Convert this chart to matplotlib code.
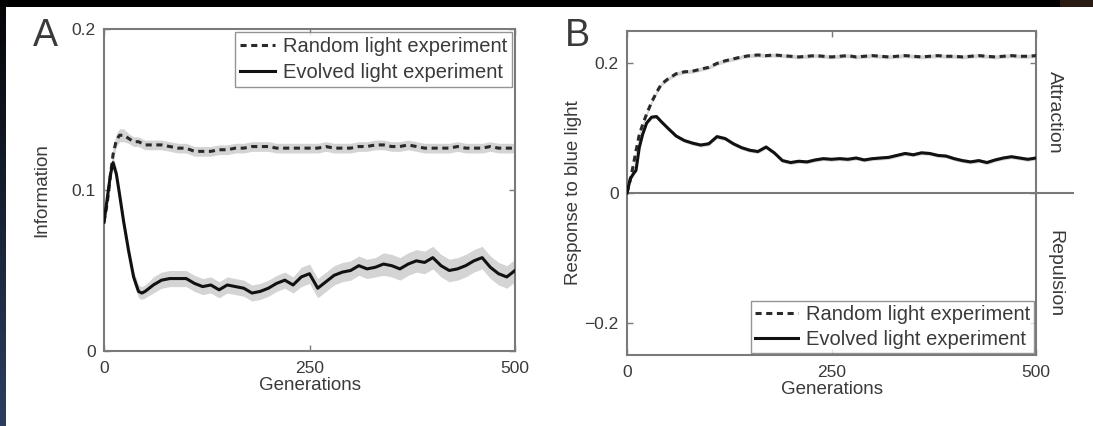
import matplotlib
matplotlib.use("Agg")
import matplotlib.pyplot as plt
import numpy as np
from matplotlib.patches import Rectangle

plt.rcParams['font.family'] = ['Liberation Sans', 'DejaVu Sans']

# Generations sampled (denser near the start, where curves change fast)
generations = [0, 4, 8, 11, 15, 19, 24, 30, 36, 42, 46, 50, 60, 70, 80, 90, 100,
               110, 120, 130, 140, 150, 160, 170, 180, 190, 200, 210, 220, 230, 240,
               250, 260, 270, 280, 290, 300, 310, 320, 330, 340, 350, 360, 370, 380,
               390, 400, 410, 420, 430, 440, 450, 460, 470, 480, 490, 500]

# Panel A: information
info_random = [0.080, 0.092, 0.110, 0.122, 0.131, 0.134, 0.134, 0.132, 0.130, 0.130, 0.129,
               0.128, 0.128, 0.128, 0.127, 0.126, 0.126, 0.124, 0.124, 0.124, 0.125, 0.125,
               0.126, 0.126, 0.127, 0.127, 0.127, 0.126, 0.126, 0.126, 0.126, 0.126, 0.126,
               0.127, 0.126, 0.126, 0.126, 0.127, 0.127, 0.128, 0.128, 0.127, 0.127, 0.128,
               0.127, 0.126, 0.126, 0.126, 0.126, 0.127, 0.126, 0.126, 0.126, 0.127, 0.126,
               0.126, 0.126]
info_random_err = [0.002, 0.003, 0.004, 0.004, 0.004, 0.004, 0.004, 0.003, 0.003, 0.003, 0.003,
                   0.003, 0.003, 0.003, 0.003, 0.003, 0.003, 0.003, 0.003, 0.003, 0.003, 0.003,
                   0.003, 0.003, 0.003, 0.003, 0.003, 0.003, 0.003, 0.003, 0.003, 0.003, 0.003,
                   0.003, 0.003, 0.003, 0.003, 0.003, 0.003, 0.003, 0.003, 0.003, 0.003, 0.003,
                   0.003, 0.003, 0.003, 0.003, 0.003, 0.003, 0.003, 0.003, 0.003, 0.003, 0.003,
                   0.003, 0.003]
info_evolved = [0.080, 0.095, 0.110, 0.117, 0.110, 0.097, 0.080, 0.062, 0.046, 0.037, 0.036,
                0.037, 0.041, 0.044, 0.045, 0.045, 0.045, 0.042, 0.040, 0.041, 0.038, 0.041,
                0.040, 0.039, 0.036, 0.037, 0.039, 0.042, 0.044, 0.041, 0.046, 0.048, 0.039,
                0.043, 0.047, 0.049, 0.050, 0.053, 0.051, 0.052, 0.054, 0.053, 0.051, 0.054,
                0.056, 0.055, 0.058, 0.053, 0.050, 0.051, 0.053, 0.056, 0.058, 0.052, 0.048,
                0.046, 0.050]
info_evolved_err = [0.003, 0.004, 0.004, 0.004, 0.004, 0.004, 0.004, 0.004, 0.004, 0.004, 0.004,
                    0.004, 0.005, 0.005, 0.005, 0.005, 0.005, 0.005, 0.005, 0.005, 0.005, 0.005,
                    0.005, 0.005, 0.005, 0.005, 0.005, 0.005, 0.005, 0.005, 0.006, 0.006, 0.006,
                    0.006, 0.006, 0.006, 0.006, 0.006, 0.006, 0.006, 0.007, 0.007, 0.007, 0.007,
                    0.007, 0.007, 0.007, 0.007, 0.007, 0.007, 0.007, 0.007, 0.007, 0.007, 0.007,
                    0.007, 0.007]

# Panel B: response to blue light
resp_random = [0.000, 0.020, 0.045, 0.065, 0.090, 0.105, 0.122, 0.140, 0.155, 0.168, 0.172,
               0.176, 0.184, 0.187, 0.188, 0.191, 0.194, 0.200, 0.204, 0.207, 0.210, 0.212,
               0.213, 0.212, 0.213, 0.212, 0.211, 0.210, 0.211, 0.212, 0.211, 0.210, 0.211,
               0.212, 0.210, 0.211, 0.212, 0.211, 0.210, 0.211, 0.212, 0.211, 0.210, 0.211,
               0.212, 0.211, 0.211, 0.210, 0.211, 0.212, 0.211, 0.210, 0.211, 0.212, 0.211,
               0.211, 0.212]
resp_random_err = [0.003] * len(generations)
resp_evolved = [0.000, 0.022, 0.030, 0.035, 0.070, 0.090, 0.108, 0.117, 0.118, 0.110, 0.105,
                0.100, 0.088, 0.081, 0.077, 0.074, 0.076, 0.087, 0.084, 0.076, 0.070, 0.066,
                0.064, 0.071, 0.062, 0.050, 0.047, 0.049, 0.048, 0.051, 0.053, 0.052, 0.053,
                0.052, 0.054, 0.051, 0.053, 0.054, 0.055, 0.058, 0.061, 0.059, 0.062, 0.061,
                0.058, 0.057, 0.053, 0.050, 0.048, 0.050, 0.047, 0.051, 0.054, 0.056, 0.054,
                0.052, 0.054]
resp_evolved_err = [0.003] * len(generations)

labels = ['Random light experiment', 'Evolved light experiment']

text_col = '#3a3a3a'
spine_col = '#7a7a7a'
band_col = '#d4d4d4'

fig = plt.figure(figsize=(10.93, 4.26), dpi=100)
fig.patch.set_facecolor('white')

# dark slide edges (top and left)
fig.patches.append(Rectangle((0, 1 - 7 / 426), 1, 7 / 426, transform=fig.transFigure,
                             facecolor='black', edgecolor='none', zorder=10))
fig.patches.append(Rectangle((1060 / 1093, 1 - 7 / 426), 33 / 1093, 7 / 426,
                             transform=fig.transFigure, facecolor='#2a1c12',
                             edgecolor='none', zorder=11))
edge = fig.add_axes([0, 0, 6 / 1093, 1 - 7 / 426])
edge.imshow(np.linspace(0, 1, 100).reshape(-1, 1), aspect='auto',
            cmap=matplotlib.colors.LinearSegmentedColormap.from_list('e', ['#050608', '#2c3e60']))
edge.axis('off')


def style_axes(ax):
    for s in ax.spines.values():
        s.set_color(spine_col)
        s.set_linewidth(1.5)
    ax.tick_params(direction='in', length=4, width=1, color=spine_col, labelcolor=text_col,
                   labelsize=12.5, top=True, right=True)
    ax.tick_params(axis='y', pad=6)
    ax.tick_params(axis='x', pad=7)
    ax.set_xlim(0, 500)
    ax.set_xticks([0, 250, 500])
    ax.set_xlabel('Generations', fontsize=13.5, color=text_col, labelpad=1)


def draw(ax, g, y, err, ls):
    y = np.array(y)
    err = np.array(err)
    ax.fill_between(g, y - err, y + err, color=band_col, lw=0, zorder=1)
    if ls == 'dashed':
        return ax.plot(g, y, color='#2a2a2a', lw=2.2, ls=(0, (2.0, 1.5)), zorder=3)[0]
    return ax.plot(g, y, color='#111111', lw=2.2, zorder=3)[0]


def style_legend(leg):
    leg.get_frame().set_edgecolor(spine_col)
    leg.get_frame().set_linewidth(1)
    for t in leg.get_texts():
        t.set_color(text_col)


# ---- Panel A
axA = fig.add_axes([104 / 1093, 75 / 426, 411 / 1093, 322 / 426])
style_axes(axA)
axA.set_ylim(0, 0.2)
axA.set_yticks([0, 0.1, 0.2])
axA.set_yticklabels(['0', '0.1', '0.2'])
l1 = draw(axA, generations, info_random, info_random_err, 'dashed')
l2 = draw(axA, generations, info_evolved, info_evolved_err, 'solid')
axA.set_ylabel('Information', fontsize=13.5, color=text_col)
axA.yaxis.set_label_coords(-0.13, 0.5)
legA = axA.legend([l1, l2], labels, loc='upper right', fontsize=14.5, frameon=True,
                  fancybox=False, borderaxespad=0.15, handlelength=1.7, labelspacing=0.35,
                  borderpad=0.25, handletextpad=0.4)
style_legend(legA)
fig.text(33 / 1093, 1 - 46 / 426, 'A', fontsize=27, color=text_col)

# ---- Panel B
axB = fig.add_axes([627 / 1093, 71 / 426, 409 / 1093, 324 / 426])
style_axes(axB)
axB.set_ylim(-0.25, 0.25)
axB.set_yticks([-0.2, 0, 0.2])
axB.set_yticklabels(['\u22120.2', '0', '0.2'])
axB.axhline(0, xmin=0, xmax=1.09, color=spine_col, lw=1.5, clip_on=False, zorder=2)
m1 = draw(axB, generations, resp_random, resp_random_err, 'dashed')
m2 = draw(axB, generations, resp_evolved, resp_evolved_err, 'solid')
axB.set_ylabel('Response to blue light', fontsize=13.5, color=text_col)
axB.yaxis.set_label_coords(-0.11, 0.5)
legB = axB.legend([m1, m2], labels, loc='lower right', fontsize=14.5, frameon=True,
                  fancybox=False, borderaxespad=0.1, handlelength=2.1, labelspacing=0.3,
                  borderpad=0.2, handletextpad=0.4)
style_legend(legB)
axB.text(1.045, 0.75, 'Attraction', rotation=-90, transform=axB.transAxes,
         ha='center', va='center', fontsize=14, color=text_col)
axB.text(1.045, 0.25, 'Repulsion', rotation=-90, transform=axB.transAxes,
         ha='center', va='center', fontsize=14, color=text_col)
fig.text(565 / 1093, 1 - 46 / 426, 'B', fontsize=27, color=text_col)

fig.savefig('out.png', dpi=100)
